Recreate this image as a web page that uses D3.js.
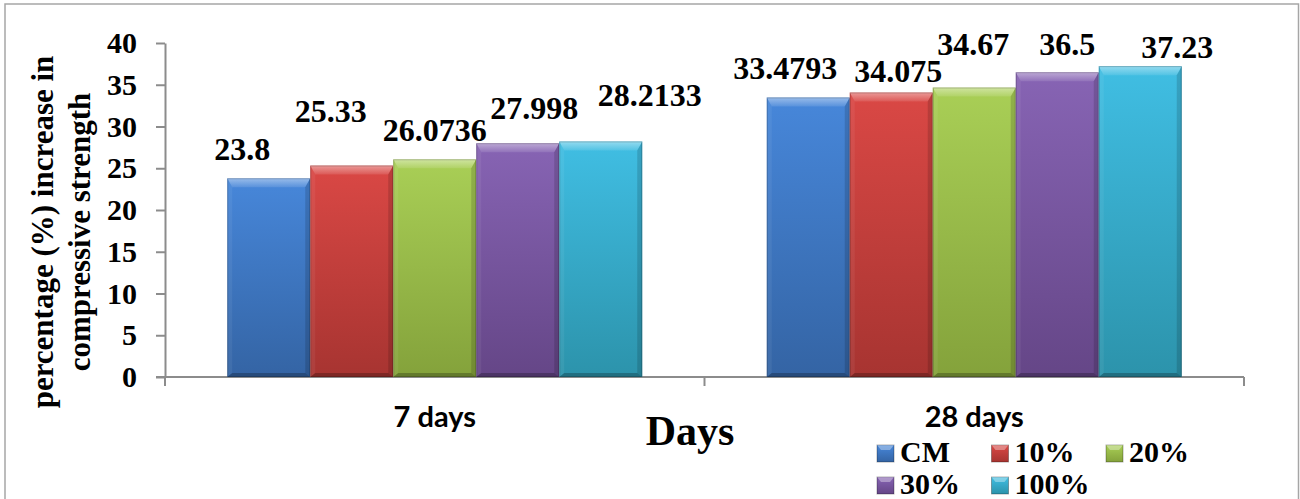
<!DOCTYPE html>
<html>
<head>
<meta charset="utf-8">
<script src="https://cdn.jsdelivr.net/npm/d3@7"></script>
<style>
  body { margin: 0; background: #fff; }
  svg { display: block; }
</style>
</head>
<body>
<div id="chart-container"></div>
<script>
// chart data
const categories = ['7 days', '28 days'];
const seriesNames = ['CM', '10%', '20%', '30%', '100%'];
const cmValues = [23.8, 33.4793];
const p10Values = [25.33, 34.075];
const p20Values = [26.0736, 34.67];
const p30Values = [27.998, 36.5];
const p100Values = [28.2133, 37.23];
const yTicks = [0, 5, 10, 15, 20, 25, 30, 35, 40];
const seriesValues = [cmValues, p10Values, p20Values, p30Values, p100Values];

// colours (top / bottom of the gradient)
const topColors = ['#4787da', '#da4845', '#a9cf56', '#8764b4', '#40bee3'];
const bottomColors = ['#3464a4', '#a73431', '#84a23b', '#654687', '#2c93ab'];

// labels were dragged by hand in the original, [dx, dy] from bar centre / top
const labelNudge = [
  [[-26.5, -29], [-23, -30]],
  [[-21, -54.5], [7, -21.5]],
  [[0, -29], [-1, -43.5]],
  [[16.5, -35], [10, -28]],
  [[49, -47], [37, -19]]
];

const width = 1300;
const height = 499;
const plot = { left: 165, right: 1244, top: 43, bottom: 377 };
const serif = '"Liberation Serif", "Times New Roman", serif';
const sans = 'Lato, "Open Sans", sans-serif';
const axisColor = '#8c8c8c';

const svg = d3
  .select('#chart-container')
  .append('svg')
  .attr('width', width)
  .attr('height', height);

// gradients for the bars
const defs = svg.append('defs');
seriesNames.forEach((s, i) => {
  const g = defs
    .append('linearGradient')
    .attr('id', 'grad' + i)
    .attr('x1', 0)
    .attr('y1', 0)
    .attr('x2', 0)
    .attr('y2', 1);
  g.append('stop').attr('offset', '0%').attr('stop-color', topColors[i]);
  g.append('stop').attr('offset', '100%').attr('stop-color', bottomColors[i]);
});

// soft highlight for the top bevel
const shine = defs
  .append('linearGradient')
  .attr('id', 'shine')
  .attr('x1', 0)
  .attr('y1', 0)
  .attr('x2', 0)
  .attr('y2', 1);
shine.append('stop').attr('offset', '0%').attr('stop-color', '#fff').attr('stop-opacity', 0.45);
shine.append('stop').attr('offset', '100%').attr('stop-color', '#fff').attr('stop-opacity', 0.1);

// outer frame
svg
  .append('rect')
  .attr('x', 5)
  .attr('y', 4)
  .attr('width', 1293.5)
  .attr('height', 540)
  .attr('fill', 'none')
  .attr('stroke', '#a6a6a6')
  .attr('stroke-width', 1.5);

// scales
const y = d3.scaleLinear().domain([0, 40]).range([plot.bottom, plot.top]);
const x0 = d3.scaleBand().domain(categories).range([plot.left, plot.right]);
//gap width 150% like excel
const x1 = d3.scaleBand().domain(seriesNames).range([0, x0.bandwidth()]).paddingOuter(0.75);

// y axis
svg
  .append('g')
  .attr('transform', `translate(${plot.left},0)`)
  .call(d3.axisLeft(y).tickValues(yTicks).tickSize(9).tickSizeOuter(0).tickPadding(19))
  .call((g) => g.select('.domain').attr('stroke', axisColor).attr('stroke-width', 2))
  .call((g) => g.selectAll('.tick line').attr('stroke', axisColor).attr('stroke-width', 2))
  .call((g) =>
    g
      .selectAll('.tick text')
      .attr('fill', '#000')
      .style('font-family', serif)
      .style('font-weight', 'bold')
      .style('font-size', '30px')
  );

// x axis line and category boundary ticks
svg
  .append('line')
  .attr('x1', plot.left - 9)
  .attr('x2', plot.right)
  .attr('y1', y(0))
  .attr('y2', y(0))
  .attr('stroke', axisColor)
  .attr('stroke-width', 2);

svg
  .selectAll('.xTick')
  .data([...categories.map((c) => x0(c)), plot.right])
  .join('line')
  .attr('x1', (d) => d)
  .attr('x2', (d) => d)
  .attr('y1', y(0))
  .attr('y2', y(0) + 9)
  .attr('stroke', axisColor)
  .attr('stroke-width', 2);

// bars
const barData = [];
seriesNames.forEach((s, i) => {
  categories.forEach((c, j) => {
    barData.push({ s, i, c, j, v: seriesValues[i][j] });
  });
});

const bars = svg
  .selectAll('.bar')
  .data(barData)
  .join('g')
  .attr('class', 'bar');

bars.each(function (d) {
  const g = d3.select(this);
  const bx = x0(d.c) + x1(d.s);
  const bw = x1.bandwidth();
  const top = y(d.v);
  const bottom = y(0);
  const bt = 9; // top bevel
  const bs = 5; // side bevel
  const bb = 4; // bottom bevel

  g.append('rect')
    .attr('x', bx)
    .attr('y', top)
    .attr('width', bw)
    .attr('height', bottom - top)
    .attr('fill', `url(#grad${d.i})`);

  const pts = (arr) => arr.map((p) => p.join(',')).join(' ');
  // top bevel
  g.append('polygon')
    .attr('points', pts([[bx, top], [bx + bw, top], [bx + bw - bs, top + bt], [bx + bs, top + bt]]))
    .attr('fill', 'url(#shine)');
  // left bevel
  g.append('polygon')
    .attr('points', pts([[bx, top], [bx + bs, top + bt], [bx + bs, bottom - bb], [bx, bottom]]))
    .attr('fill', '#fff')
    .attr('fill-opacity', 0.06);
  // right bevel
  g.append('polygon')
    .attr('points', pts([[bx + bw, top], [bx + bw - bs, top + bt], [bx + bw - bs, bottom - bb], [bx + bw, bottom]]))
    .attr('fill', '#000')
    .attr('fill-opacity', 0.14);
  // bottom bevel
  g.append('polygon')
    .attr('points', pts([[bx, bottom], [bx + bs, bottom - bb], [bx + bw - bs, bottom - bb], [bx + bw, bottom]]))
    .attr('fill', '#000')
    .attr('fill-opacity', 0.25);
  // thin edge
  g.append('rect')
    .attr('x', bx + 0.5)
    .attr('y', top + 0.5)
    .attr('width', bw - 1)
    .attr('height', bottom - top - 1)
    .attr('fill', 'none')
    .attr('stroke', '#000')
    .attr('stroke-opacity', 0.2);
});

// data labels
svg
  .selectAll('.valueLabel')
  .data(barData)
  .join('text')
  .attr('x', (d) => x0(d.c) + x1(d.s) + x1.bandwidth() / 2 + labelNudge[d.i][d.j][0])
  .attr('y', (d) => y(d.v) + labelNudge[d.i][d.j][1])
  .attr('dy', '0.35em')
  .attr('text-anchor', 'middle')
  .style('font-family', serif)
  .style('font-weight', 'bold')
  .style('font-size', '32px')
  .text((d) => String(d.v));

// category labels
svg
  .selectAll('.catLabel')
  .data(categories)
  .join('text')
  .attr('x', (d) => x0(d) + x0.bandwidth() / 2)
  .attr('y', 427)
  .attr('text-anchor', 'middle')
  .style('font-family', sans)
  .style('font-weight', 'bold')
  .style('font-size', '29px')
  .text((d) => d);

// x axis title
svg
  .append('text')
  .attr('x', 690)
  .attr('y', 445)
  .attr('text-anchor', 'middle')
  .style('font-family', serif)
  .style('font-weight', 'bold')
  .style('font-size', '42px')
  .text('Days');

// y axis title, two lines
svg
  .selectAll('.yTitle')
  .data(['percentage (%) increase in', 'compressive strength'])
  .join('text')
  .attr('transform', 'rotate(-90)')
  .attr('x', -232)
  .attr('y', (d, i) => 53 + i * 37)
  .attr('text-anchor', 'middle')
  .style('font-family', serif)
  .style('font-weight', 'bold')
  .style('font-size', '31px')
  .text((d) => d);

// legend
const legend = svg
  .selectAll('.legendItem')
  .data(seriesNames)
  .join('g')
  .attr('transform', (d, i) => `translate(${877 + (i % 3) * 114.5},${445 + Math.floor(i / 3) * 32})`);

legend
  .append('rect')
  .attr('width', 17)
  .attr('height', 17)
  .attr('fill', (d, i) => `url(#grad${i})`)
  .attr('stroke', '#000')
  .attr('stroke-opacity', 0.3);

legend
  .append('polygon')
  .attr('points', '0,0 17,0 13,5 4,5')
  .attr('fill', '#fff')
  .attr('fill-opacity', 0.35);

legend
  .append('text')
  .attr('x', 23)
  .attr('y', 17)
  .style('font-family', serif)
  .style('font-weight', 'bold')
  .style('font-size', '30px')
  .text((d) => d);
</script>
</body>
</html>
